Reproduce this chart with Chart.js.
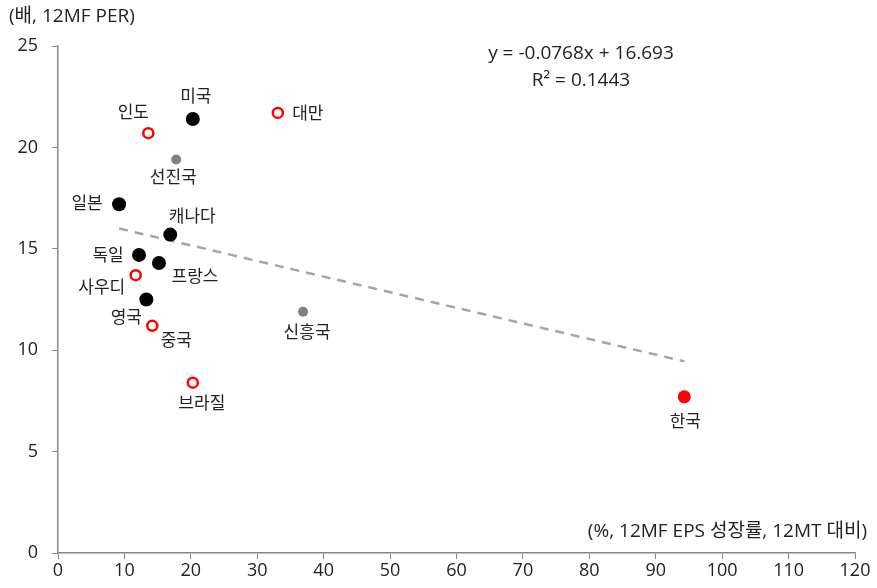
<!DOCTYPE html>
<html>
<head>
<meta charset="utf-8">
<script src="https://cdn.jsdelivr.net/npm/chart.js@4"></script>
<style>
  html, body { margin: 0; padding: 0; background: #fff; }
  #wrap { width: 877px; height: 588px; }
</style>
</head>
<body>
<div id="wrap"><canvas id="scatterChart"></canvas></div>
<script>
// values (x: 12MF EPS growth %, y: 12MF PER)
const countries = ["미국", "인도", "대만", "선진국", "일본", "캐나다", "독일", "프랑스", "사우디", "영국", "중국", "브라질", "신흥국", "한국"];
const epsGrowth = [20.3, 13.6, 33.1, 17.8, 9.2, 16.9, 12.2, 15.2, 11.7, 13.3, 14.2, 20.3, 36.9, 94.3];
const per = [21.4, 20.7, 21.7, 19.4, 17.2, 15.7, 14.7, 14.3, 13.7, 12.5, 11.2, 8.4, 11.9, 7.7];
const groups = ["dev", "em", "em", "avg", "dev", "dev", "dev", "dev", "em", "dev", "em", "em", "avg", "kr"];

const trendX = [9.2, 94.3];
const trendY = [16.0, 9.45];

const xTicks = [0, 10, 20, 30, 40, 50, 60, 70, 80, 90, 100, 110, 120];
const yTicks = [0, 5, 10, 15, 20, 25];

const eqLines = ["y = -0.0768x + 16.693", "R² = 0.1443"];
const yTitle = "(배, 12MF PER)";
const xTitle = "(%, 12MF EPS 성장률, 12MT 대비)";

// label offsets (px) relative to each point, same order as countries
const labelOffsets = [
  [3, -22], [-15, -20], [30, 1], [-3, 19], [-32, 0], [22, -17], [-31, 1],
  [36, 14], [-34, 13], [-20, 19], [24, 15], [9, 22], [4, 21], [1, 25]
];

const FONT = "'Open Sans', 'Noto Sans CJK KR', sans-serif";

const styles = {
  dev: { bg: "#000000", border: "#000000", r: 7, bw: 0 },
  em:  { bg: "#ffffff", border: "#ff0000", r: 5, bw: 2.5 },
  avg: { bg: "#808080", border: "#808080", r: 5, bw: 0 },
  kr:  { bg: "#ff0000", border: "#ff0000", r: 6.5, bw: 0 }
};

const points = countries.map((c, i) => ({ x: epsGrowth[i], y: per[i] }));

const labelPlugin = {
  id: "labels",
  afterDatasetsDraw(chart) {
    const ctx = chart.ctx;
    const meta = chart.getDatasetMeta(1);
    ctx.save();
    ctx.font = "17px " + FONT;
    ctx.fillStyle = "#222";
    ctx.textAlign = "center";
    ctx.textBaseline = "middle";
    meta.data.forEach((el, i) => {
      ctx.fillText(countries[i], el.x + labelOffsets[i][0], el.y + labelOffsets[i][1]);
    });
    // equation
    ctx.font = "19px " + FONT;
    ctx.fillText(eqLines[0], 581, 54);
    ctx.fillText(eqLines[1], 581, 81);
    // axis titles
    ctx.textAlign = "left";
    ctx.fillText(yTitle, 9, 17);
    ctx.textAlign = "right";
    ctx.fillText(xTitle, 867, 532);
    ctx.restore();
  }
};

new Chart(document.getElementById("scatterChart").getContext("2d"), {
  type: "scatter",
  data: {
    datasets: [
      {
        type: "line",
        data: trendX.map((x, i) => ({ x: x, y: trendY[i] })),
        borderColor: "#a6a6a6",
        borderWidth: 2.5,
        borderDash: [9, 7],
        pointRadius: 0,
        fill: false,
        order: 2
      },
      {
        data: points,
        backgroundColor: groups.map(g => styles[g].bg),
        borderColor: groups.map(g => styles[g].border),
        borderWidth: groups.map(g => styles[g].bw),
        pointRadius: groups.map(g => styles[g].r),
        pointHoverRadius: groups.map(g => styles[g].r),
        order: 1
      }
    ]
  },
  options: {
    responsive: true,
    maintainAspectRatio: false,
    animation: false,
    layout: { padding: { top: 46, right: 22, left: 0, bottom: 0 } },
    plugins: {
      legend: { display: false },
      tooltip: { enabled: false }
    },
    scales: {
      x: {
        type: "linear",
        min: 0, max: 120,
        afterBuildTicks: s => { s.ticks = xTicks.map(v => ({ value: v })); },
        afterFit: s => { s.height = 35; },
        grid: { display: true, drawOnChartArea: false, drawTicks: true, tickLength: 6, color: "#888" },
        border: { color: "#888", width: 1.5 },
        ticks: { color: "#222", font: { size: 18, family: FONT }, padding: 1, maxRotation: 0 }
      },
      y: {
        type: "linear",
        min: 0, max: 25,
        afterBuildTicks: s => { s.ticks = yTicks.map(v => ({ value: v })); },
        afterFit: s => { s.width = 58; },
        grid: { display: true, drawOnChartArea: false, drawTicks: true, tickLength: 6, color: "#888" },
        border: { color: "#888", width: 1.5 },
        ticks: { color: "#222", font: { size: 18, family: FONT }, padding: 14 }
      }
    }
  },
  plugins: [labelPlugin]
});
</script>
</body>
</html>
